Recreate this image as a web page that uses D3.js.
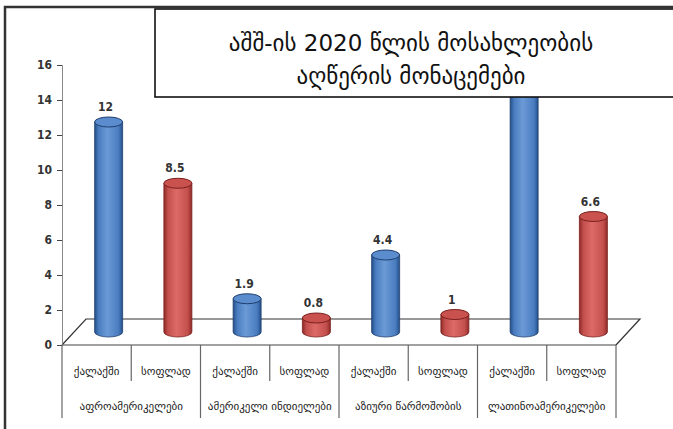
<!DOCTYPE html>
<html><head><meta charset="utf-8">
<script src="https://cdn.jsdelivr.net/npm/d3@7"></script>
<style>
html,body{margin:0;padding:0;background:#fff;}
svg{display:block;}
</style></head>
<body>
<svg id="c" width="673" height="429"></svg>
<script>
const titleLines = ["აშშ-ის 2020 წლის მოსახლეობის", "აღწერის მონაცემები"];
const groups = ["აფროამერიკელები", "ამერიკელი ინდიელები", "აზიური წარმოშობის", "ლათინოამერიკელები"];
const subgroups = ["ქალაქში", "სოფლად"];
const values = [12, 8.5, 1.9, 0.8, 4.4, 1, 15.2, 6.6];
// the label of the 7th bar is hidden behind the title box in the reference
const valueLabels = ["12", "8.5", "1.9", "0.8", "4.4", "1", "", "6.6"];
const yTicks = [0, 2, 4, 6, 8, 10, 12, 14, 16];

const svg = d3.select("#c");
const defs = svg.append("defs");
const left = 62, right = 616, base = 345, topY = 65;
const depthX = 24, depthY = 26;
const numFont = "'DejaVu Sans Condensed','Liberation Sans Narrow','Arial Narrow',sans-serif";

const cells = d3.range(values.length);
const x = d3.scaleBand().domain(cells).range([left, right]).padding(0);
const y = d3.scaleLinear().domain([0, 16]).range([base, topY]);

// outer frame
svg.append("rect").attr("x", 5).attr("y", 7).attr("width", 700).attr("height", 450)
  .attr("fill", "#fff").attr("stroke", "#333").attr("stroke-width", 2.5);

// gradients
function grad(id, edge, mid, light) {
  const g = defs.append("linearGradient").attr("id", id).attr("x1", "0").attr("x2", "1").attr("y1", "0").attr("y2", "0");
  g.append("stop").attr("offset", "0").attr("stop-color", edge);
  g.append("stop").attr("offset", "0.15").attr("stop-color", mid);
  g.append("stop").attr("offset", "0.45").attr("stop-color", light);
  g.append("stop").attr("offset", "0.85").attr("stop-color", mid);
  g.append("stop").attr("offset", "1").attr("stop-color", edge);
}
grad("gBlue", "#24508a", "#4a7dc0", "#6b9ad6");
grad("gRed", "#8f2a28", "#c4504d", "#dc6a67");
const colors = [
  {g: "url(#gBlue)", top: "#5a8cce", stroke: "#1f3f6e"},
  {g: "url(#gRed)", top: "#c9524f", stroke: "#7a1f1d"}
];

// floor
const fl = svg.append("g").attr("stroke", "#333").attr("stroke-width", 1.2).attr("fill", "none");
fl.append("path").attr("d", `M${left},${base} L${left + depthX},${base - depthY} L${right + depthX},${base - depthY} L${right},${base}`);

// y axis
const ax = svg.append("g").attr("transform", `translate(${left},0)`)
  .call(d3.axisLeft(y).tickValues(yTicks).tickSize(5).tickPadding(5).tickFormat(d3.format("d")));
ax.select(".domain").attr("stroke", "#888");
ax.selectAll(".tick line").attr("stroke", "#444");
ax.selectAll("text").attr("font-family", numFont)
  .attr("font-weight", "bold").attr("font-size", 12).attr("fill", "#333");

// bars
const rx = 14, ry = 5;
const bars = svg.append("g");
cells.forEach(i => {
  const c = colors[i % 2];
  const cx = x(i) + x.bandwidth() / 2 + depthX / 2;
  const yb = y(0) - depthY / 2;
  const yt = y(values[i]) - depthY / 2;
  bars.append("path")
    .attr("d", `M${cx - rx},${yt} L${cx - rx},${yb} A${rx},${ry} 0 0 0 ${cx + rx},${yb} L${cx + rx},${yt} Z`)
    .attr("fill", c.g).attr("stroke", c.stroke).attr("stroke-width", 0.8);
  bars.append("ellipse").attr("cx", cx).attr("cy", yt).attr("rx", rx).attr("ry", ry)
    .attr("fill", c.top).attr("stroke", c.stroke).attr("stroke-width", 1);
  if (valueLabels[i]) {
    bars.append("text").attr("x", cx - 3).attr("y", yt - 11)
      .attr("text-anchor", "middle")
      .attr("font-family", numFont)
      .attr("font-weight", "bold").attr("font-size", 12).attr("fill", "#333")
      .text(valueLabels[i]);
  }
});

// front edge of floor / category axis
svg.append("line").attr("x1", left).attr("x2", right).attr("y1", base).attr("y2", base)
  .attr("stroke", "#444").attr("stroke-width", 1.2);

// category table
const tbl = svg.append("g").attr("stroke", "#666").attr("stroke-width", 1.2);
d3.range(values.length + 1).forEach(i => {
  const xx = i < values.length ? x(i) : right;
  const isGroup = i % 2 === 0;
  tbl.append("line").attr("x1", xx).attr("x2", xx).attr("y1", base).attr("y2", isGroup ? 418 : 381);
});
function fitText(sel, maxW) {
  sel.each(function() {
    const w = this.getComputedTextLength();
    if (w > maxW) d3.select(this).attr("textLength", maxW).attr("lengthAdjust", "spacingAndGlyphs");
  });
}
cells.forEach(i => {
  svg.append("text").attr("x", x(i) + x.bandwidth() / 2).attr("y", 375)
    .attr("text-anchor", "middle").attr("font-family", "'DejaVu Sans',sans-serif")
    .attr("font-size", 11).attr("fill", "#222").text(subgroups[i % 2])
    .call(fitText, 50);
});
groups.forEach((g, k) => {
  const x0 = x(k * 2), x1 = x(k * 2 + 1) + x.bandwidth();
  svg.append("text").attr("x", (x0 + x1) / 2).attr("y", 410)
    .attr("text-anchor", "middle").attr("font-family", "'DejaVu Sans',sans-serif")
    .attr("font-size", 11).attr("fill", "#222").text(g)
    .call(fitText, x1 - x0 - 10);
});

// title box
svg.append("rect").attr("x", 155).attr("y", 9).attr("width", 560).attr("height", 88)
  .attr("fill", "#fff").attr("stroke", "#111").attr("stroke-width", 1.6);
titleLines.forEach((t, k) => {
  svg.append("text").attr("x", 411).attr("y", 51 + k * 33)
    .attr("text-anchor", "middle").attr("font-family", "'DejaVu Sans',sans-serif")
    .attr("font-size", 23).attr("fill", "#111").text(t);
});
</script>
</body></html>
